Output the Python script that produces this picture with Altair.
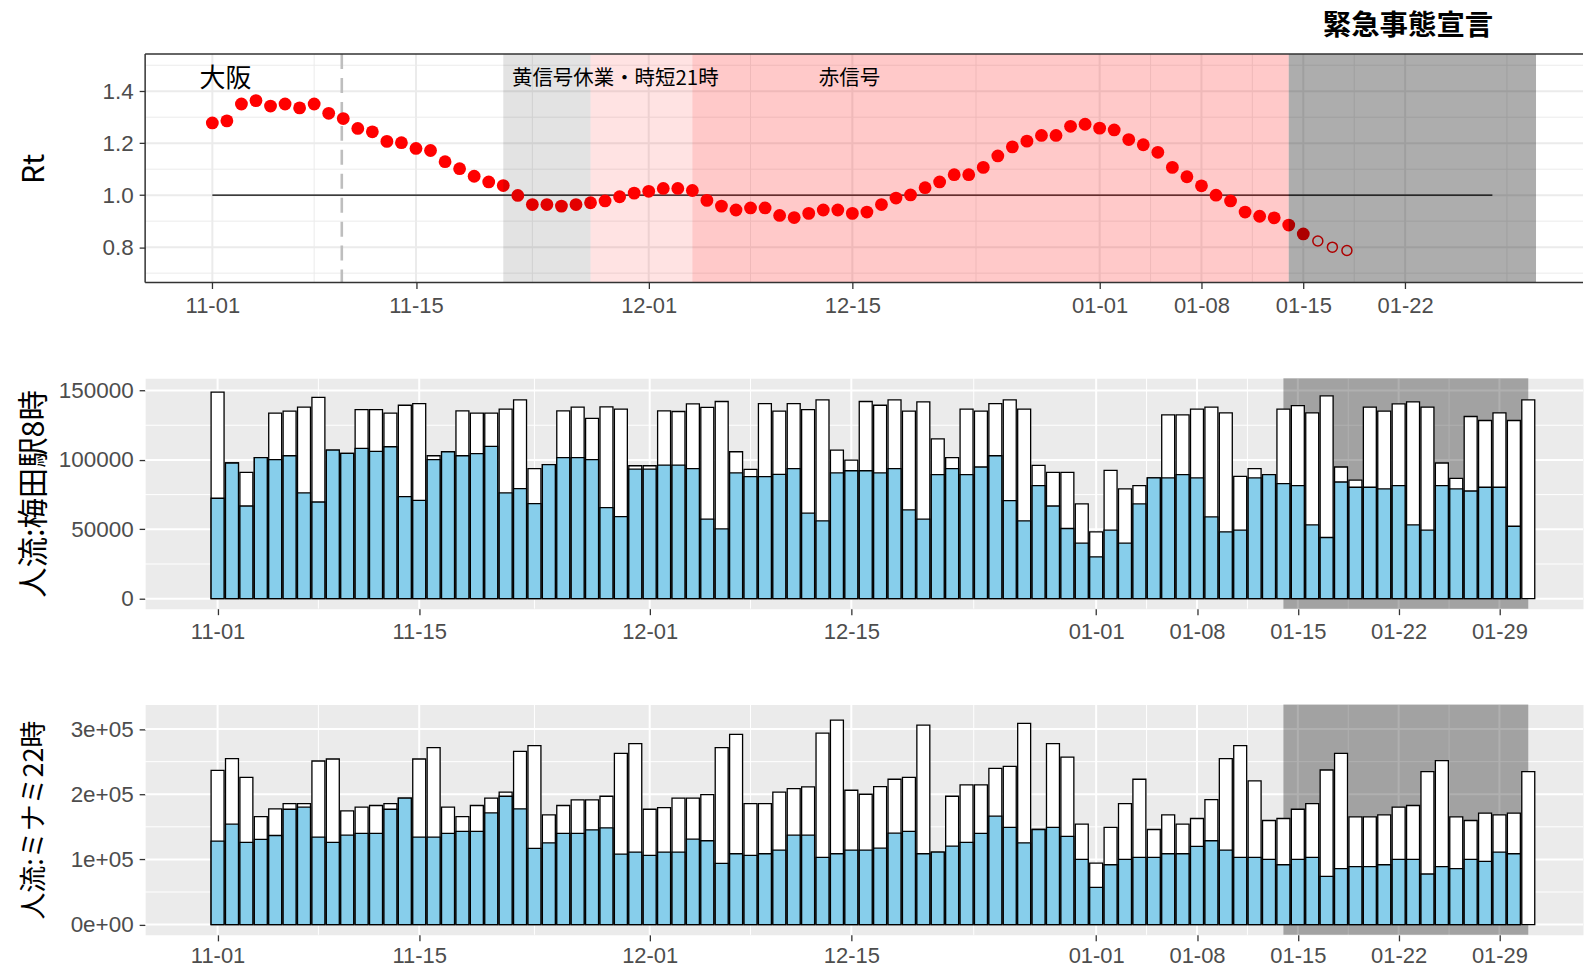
import altair as alt
import pandas as pd

DAY_MS = 86_400_000
ORIGIN_MS = int(pd.Timestamp("2020-11-01", tz="UTC").timestamp() * 1000)


def at(day):
    """UTC timestamp (ms) of a day offset counted from 2020-11-01."""
    return ORIGIN_MS + day * DAY_MS


def ts(date):
    return int(pd.Timestamp(date, tz="UTC").timestamp() * 1000)


FONT = "Liberation Sans, Noto Sans CJK JP"
JP_FONT = "Noto Sans CJK JP, Liberation Sans"

# ---------------------------------------------------------------- data
dates = [d.strftime("%Y-%m-%d") for d in pd.date_range("2020-11-01", "2021-01-31", freq="D")]

# effective reproduction number, Osaka (estimated through 01-16, projected after)
rt_values = [
    1.278, 1.286, 1.351, 1.364, 1.343, 1.351, 1.336, 1.351, 1.315, 1.295,
    1.257, 1.244, 1.207, 1.202, 1.180, 1.172, 1.129, 1.102, 1.073, 1.051,
    1.037, 0.999, 0.964, 0.964, 0.958, 0.964, 0.971, 0.978, 0.994, 1.008,
    1.015, 1.026, 1.026, 1.018, 0.980, 0.958, 0.943, 0.951, 0.951, 0.922,
    0.914, 0.930, 0.943, 0.943, 0.930, 0.935, 0.964, 0.989, 1.001, 1.029,
    1.051, 1.079, 1.079, 1.107, 1.151, 1.186, 1.208, 1.230, 1.230, 1.265,
    1.273, 1.258, 1.251, 1.214, 1.194, 1.165, 1.107, 1.071, 1.036, 1.000,
    0.978, 0.935, 0.919, 0.913, 0.885, 0.851,
]
rt_projection = [0.824, 0.800, 0.787]

# foot traffic, Umeda station 8:00 (blue = current, white = comparison)
umeda_current = [
    72400, 97800, 66800, 101600, 100200, 103000, 76200, 69700, 107100, 104700,
    108300, 106100, 109500, 73600, 70900, 100200, 105900, 103000, 104500, 109700,
    76200, 79300, 68500, 96600, 101600, 101600, 100200, 65700, 59200, 93400,
    93400, 96300, 96300, 93700, 57300, 50300, 90600, 87900, 87900, 89600,
    93700, 61600, 56100, 90600, 92200, 92200, 90600, 93700, 64000, 57300,
    89400, 93700, 89400, 94900, 103000, 70700, 56100, 81500, 66800, 50600,
    40000, 30200, 49400, 40000, 68300, 87000, 87000, 89400, 87000, 58900,
    48200, 49400, 87000, 89400, 82900, 81500, 53200, 44100, 84100, 80300,
    80300, 79100, 81500, 53200, 49400, 81500, 79100, 77600, 80300, 80300,
    52200,
]
umeda_reference = [
    148800, 97800, 91000, 101600, 133700, 135100, 138000, 145000, 107100, 104700,
    136300, 136300, 133700, 139400, 140600, 103000, 105900, 135400, 133700, 133700,
    136600, 143300, 93700, 96600, 135400, 138000, 129900, 138200, 136600, 95800,
    95800, 135400, 134900, 140400, 137800, 142100, 105900, 93200, 140600, 135100,
    140600, 136300, 143300, 107100, 99900, 142100, 139400, 143300, 135100, 141800,
    115200, 101600, 136600, 135100, 140600, 143300, 136600, 96100, 91000, 91000,
    68300, 48200, 92500, 79100, 81500, 87000, 132500, 132500, 136600, 138000,
    133900, 88200, 93700, 89400, 136600, 139200, 133900, 146200, 94900, 85500,
    138000, 135100, 140400, 141800, 138000, 97800, 86700, 131300, 128400, 133900,
    128400, 143300,
]

# foot traffic, Minami 22:00
minami_current = [
    128100, 154100, 126000, 130600, 136700, 177000, 180100, 134200, 126000, 137200,
    139800, 139800, 177000, 193900, 134200, 134200, 139800, 142900, 142900, 171400,
    196900, 177600, 116800, 125500, 139800, 139800, 145400, 148500, 108200, 111200,
    106100, 111200, 111200, 131100, 128600, 93900, 108700, 106100, 108700, 114300,
    137200, 137200, 103100, 108700, 114300, 114300, 117300, 140300, 142900, 108700,
    111200, 120400, 126000, 139800, 166300, 149000, 125500, 145900, 149000, 135200,
    100000, 57100, 91800, 100000, 103100, 103100, 108700, 108700, 119900, 128600,
    114300, 103100, 103100, 100000, 91800, 100000, 103100, 74000, 85700, 88800,
    88800, 91800, 100000, 100000, 77600, 88800, 85700, 100000, 96900, 111200,
    108700,
]
minami_reference = [
    236700, 254600, 226000, 165800, 177600, 185700, 185700, 251000, 254100, 174500,
    180100, 182700, 185700, 193900, 254100, 271400, 180100, 165800, 182700, 193900,
    203100, 265800, 274500, 168400, 182700, 191300, 191300, 196900, 262800, 277600,
    177000, 179600, 193900, 193900, 199500, 271400, 291800, 185700, 185700, 203100,
    208700, 211200, 293900, 313800, 206100, 200000, 211700, 223000, 226000, 306100,
    111200, 196900, 214300, 214300, 239800, 242900, 308700, 145900, 277600, 257100,
    154100, 94400, 149000, 185700, 223000, 145900, 168400, 154100, 162800, 191800,
    254600, 274500, 220400, 159700, 162800, 177000, 185700, 237200, 262800, 165300,
    165300, 168400, 180100, 182700, 234700, 251500, 165300, 159700, 170900, 168400,
    170900, 234700,
]

# axis breaks
rt_ticks = ["2020-11-01", "2020-11-15", "2020-12-01", "2020-12-15",
            "2021-01-01", "2021-01-08", "2021-01-15", "2021-01-22"]
flow_ticks = rt_ticks + ["2021-01-29"]
rt_y_ticks = [0.8, 1.0, 1.2, 1.4]
umeda_y_ticks = [0, 50000, 100000, 150000]
minami_y_ticks = [0, 100000, 200000, 300000]

# policy periods shaded in the Rt panel
period_start = ["2020-11-21", "2020-11-27", "2020-12-04", "2021-01-14"]
period_end = ["2020-11-27", "2020-12-04", "2021-01-14", "2021-01-31"]
emergency_start, emergency_end = "2021-01-14", "2021-01-31"

# annotations
area_label, area_day, area_rt = "大阪", 0.9, 1.447
phase_labels = ["黄信号休業・時短21時", "赤信号"]
phase_days = [27.7, 43.8]
phase_rt = [1.448, 1.448]
emergency_label, emergency_day = "緊急事態宣言", 82.2
reference_line = ("2020-11-01", "2021-01-28", 1.0)
marker_day = 8.9

# ---------------------------------------------------------------- layout
W = 1441.5
H_RT, H_FLOW = 229, 231
RT_XDOM = [at(-4.62), at(94.23)]
FLOW_XDOM = [at(-5.03), at(94.80)]
RT_YDOM = [0.664, 1.543]
UMEDA_YDOM = [-7190, 158840]
MINAMI_YDOM = [-15800, 337800]


def minor_breaks(majors, lo, hi):
    b = list(majors)
    step = b[1] - b[0]
    b = [b[0] - step] + b + [b[-1] + step]
    mids = [(a + c) / 2 for a, c in zip(b[:-1], b[1:])]
    return [m for m in mids if lo <= m <= hi]


def x_axis(values, pad):
    return alt.Axis(values=values, labelExpr="utcFormat(datum.value, '%m-%d')",
                    title=None, grid=False, domain=False, ticks=True, tickSize=6,
                    tickWidth=1.3, tickColor="#333333", labelFontSize=22,
                    labelColor="#4D4D4D", labelFont=FONT, labelPadding=pad,
                    labelFlush=False, labelOverlap=False)


def y_axis(values, title, label_expr, title_size):
    return alt.Axis(values=values, labelExpr=label_expr, title=title,
                    titleFont=JP_FONT, titleFontSize=title_size, titleFontWeight="normal",
                    titleColor="black", titleAngle=270, titleBaseline="middle",
                    titleX=-111, grid=False, domain=False, ticks=True, tickSize=6,
                    tickWidth=1.3, tickColor="#333333", labelFontSize=22.5,
                    labelColor="#4D4D4D", labelFont=FONT, labelPadding=6,
                    labelFlush=False, labelOverlap=False)


def grid_layers(X, Y, x_major, x_minor, y_major, y_minor, color):
    """X and Y build the shared encodings for a field name."""
    out = []
    for vals, w in ((x_minor, 1.0), (x_major, 2.0)):
        out.append(alt.Chart(pd.DataFrame({"t": vals})).mark_rule(
            color=color, strokeWidth=w).encode(x=X("t")))
    for vals, w in ((y_minor, 1.0), (y_major, 2.0)):
        out.append(alt.Chart(pd.DataFrame({"v": vals})).mark_rule(
            color=color, strokeWidth=w).encode(y=Y("v")))
    return out


# ---------------------------------------------------------------- Rt panel
rt_major_t = [ts(d) for d in rt_ticks]
rt_xscale = alt.Scale(type="utc", domain=RT_XDOM)
rt_yscale = alt.Scale(domain=RT_YDOM, nice=False, zero=False)
rt_xaxis = x_axis(rt_major_t, 7)
rt_yaxis = y_axis(rt_y_ticks, "Rt", "format(datum.value, '.1f')", 30)


def RX(f):
    return alt.X(f"{f}:T", scale=rt_xscale, axis=rt_xaxis)


def RY(f):
    return alt.Y(f"{f}:Q", scale=rt_yscale, axis=rt_yaxis)


rt_layers = grid_layers(
    RX, RY, rt_major_t, minor_breaks(rt_major_t, RT_XDOM[0], RT_XDOM[1]),
    rt_y_ticks, minor_breaks(rt_y_ticks, RT_YDOM[0], RT_YDOM[1]), "#EBEBEB")

rt_df = pd.DataFrame({"t": [ts(d) for d in dates[:len(rt_values)]], "v": rt_values})
proj_df = pd.DataFrame({
    "t": [ts(d) for d in dates[len(rt_values):len(rt_values) + len(rt_projection)]],
    "v": rt_projection})

marker = alt.Chart(pd.DataFrame({"t": [at(marker_day)]})).mark_rule(
    color="#BEBEBE", strokeWidth=2.6, strokeDash=[15, 9]).encode(x=RX("t"))
ref_df = pd.DataFrame({"t": [ts(reference_line[0])], "t1": [ts(reference_line[1])],
                       "v": [reference_line[2]]})
ref_rule = alt.Chart(ref_df).mark_rule(color="black", strokeWidth=1.3).encode(
    x=RX("t"), x2="t1:T", y=RY("v"))
dots = alt.Chart(rt_df).mark_circle(size=165, color="red", opacity=1).encode(
    x=RX("t"), y=RY("v"))
open_dots = alt.Chart(proj_df).mark_point(
    shape="circle", filled=False, size=100, strokeWidth=1.5, color="red", opacity=1).encode(
    x=RX("t"), y=RY("v"))

shade_fills = ["black", "red", "red", "black"]
shade_alpha = [0.11, 0.11, 0.21, 0.32]
shades = []
for s, e, fill, a in zip(period_start, period_end, shade_fills, shade_alpha):
    shades.append(alt.Chart(pd.DataFrame({"t": [ts(s)], "t1": [ts(e)]})).mark_rect(
        color=fill, opacity=a).encode(
        x=RX("t"), x2="t1:T", y=alt.value(0), y2=alt.value(H_RT)))

area_text = alt.Chart(pd.DataFrame({"t": [at(area_day)], "v": [area_rt], "s": [area_label]})).mark_text(
    font=JP_FONT, fontSize=26, color="black", align="center", baseline="middle").encode(
    x=RX("t"), y=RY("v"), text="s:N")
phase_text = alt.Chart(pd.DataFrame({"t": [at(d) for d in phase_days], "v": phase_rt,
                                     "s": phase_labels})).mark_text(
    font=JP_FONT, fontSize=20.5, color="black", align="center", baseline="middle").encode(
    x=RX("t"), y=RY("v"), text="s:N")
emergency_text = alt.Chart(pd.DataFrame({"t": [at(emergency_day)], "s": [emergency_label]})).mark_text(
    font=JP_FONT, fontSize=28.5, fontWeight="bold", color="black", align="center",
    baseline="middle").encode(x=RX("t"), y=alt.value(-27.7), text="s:N")

one_row = alt.Data(values=[{"k": 0}])
border_color, border_w = "#333333", 1.5
borders = [
    alt.Chart(one_row).mark_rule(color=border_color, strokeWidth=border_w).encode(
        x=alt.value(0), x2=alt.value(W), y=alt.value(0)),
    alt.Chart(one_row).mark_rule(color=border_color, strokeWidth=border_w).encode(
        x=alt.value(0), x2=alt.value(W), y=alt.value(H_RT)),
    alt.Chart(one_row).mark_rule(color=border_color, strokeWidth=border_w).encode(
        x=alt.value(0), y=alt.value(0), y2=alt.value(H_RT)),
]

rt_panel = alt.layer(
    *rt_layers, marker, ref_rule, dots, open_dots, *shades,
    area_text, phase_text, emergency_text, *borders,
).properties(width=W, height=H_RT,
             view=alt.ViewBackground(fill="white", stroke="transparent"))


# ---------------------------------------------------------------- traffic panels
def flow_panel(current, reference, title, title_size, y_dom, y_ticks, label_expr, pad):
    major_t = [ts(d) for d in flow_ticks]
    xscale = alt.Scale(type="utc", domain=FLOW_XDOM)
    yscale = alt.Scale(domain=y_dom, nice=False, zero=False)
    xaxis = x_axis(major_t, pad)
    yaxis = y_axis(y_ticks, title, label_expr, title_size)

    def FX(f):
        return alt.X(f"{f}:T", scale=xscale, axis=xaxis)

    def FY(f):
        return alt.Y(f"{f}:Q", scale=yscale, axis=yaxis, stack=None)

    layers = grid_layers(FX, FY, major_t, minor_breaks(major_t, FLOW_XDOM[0], FLOW_XDOM[1]),
                         y_ticks, minor_breaks(y_ticks, y_dom[0], y_dom[1]), "white")

    emergency = alt.Chart(pd.DataFrame({"t": [ts(emergency_start)],
                                        "t1": [ts(emergency_end)]})).mark_rect(
        color="black", opacity=0.31).encode(
        x=FX("t"), x2="t1:T", y=alt.value(0), y2=alt.value(H_FLOW))

    centers = [ts(d) for d in dates]
    ref_df = pd.DataFrame({"t": [c - 0.45 * DAY_MS for c in centers],
                           "t1": [c + 0.45 * DAY_MS for c in centers],
                           "v": reference})
    cur_df = ref_df.iloc[:len(current)].copy()
    cur_df["v"] = current

    ref_bars = alt.Chart(ref_df).mark_bar(
        fill="white", stroke="black", strokeWidth=1.3, opacity=1).encode(
        x=FX("t"), x2="t1:T", y=FY("v"), y2=alt.datum(0))
    cur_bars = alt.Chart(cur_df).mark_bar(
        fill="#87CEEB", stroke="black", strokeWidth=1.3, opacity=1).encode(
        x=FX("t"), x2="t1:T", y=FY("v"), y2=alt.datum(0))

    return alt.layer(*layers, emergency, ref_bars, cur_bars).properties(
        width=W, height=H_FLOW,
        view=alt.ViewBackground(fill="#EBEBEB", stroke="transparent"))


umeda_panel = flow_panel(umeda_current, umeda_reference, "人流:梅田駅8時", 30.5,
                         UMEDA_YDOM, umeda_y_ticks, "format(datum.value, 'd')", 7)
minami_panel = flow_panel(
    minami_current, minami_reference, "人流:ミナミ22時", 27, MINAMI_YDOM, minami_y_ticks,
    "datum.value == 0 ? '0e+00' : format(datum.value / 100000, 'd') + 'e+05'", 5)

chart = alt.vconcat(rt_panel, umeda_panel, minami_panel, spacing=96, bounds="flush").properties(
    padding={"left": 18.5, "top": 10, "right": 0, "bottom": 0},
    background="white",
)

chart.save("out.html", embed_options={"renderer": "svg", "actions": False})
